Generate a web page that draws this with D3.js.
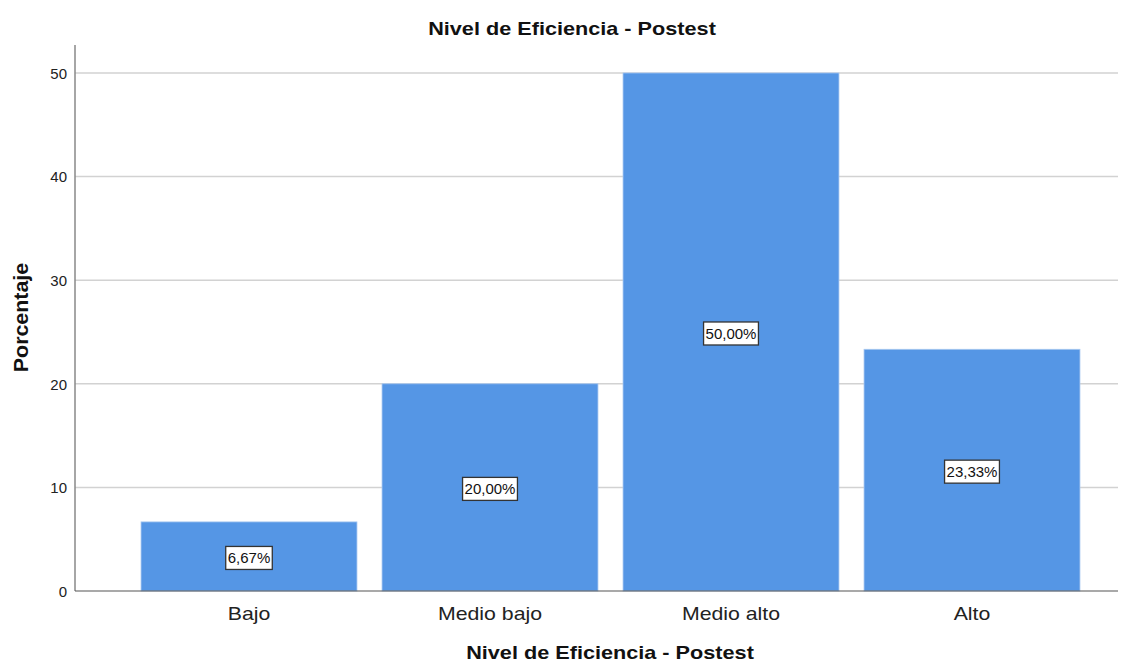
<!DOCTYPE html>
<html>
<head>
<meta charset="utf-8">
<script src="https://cdn.jsdelivr.net/npm/d3@7"></script>
<style>
  html, body { margin: 0; padding: 0; background: #fff; }
  svg { display: block; font-family: Arial, "Liberation Sans", sans-serif; }
</style>
</head>
<body>
<svg id="chart" width="1132" height="666"></svg>
<script>
// Percentage distribution of efficiency levels (post-test)
const categories = ["Bajo", "Medio bajo", "Medio alto", "Alto"];
const percentages = [6.67, 20.00, 50.00, 23.33];
const yTicks = [0, 10, 20, 30, 40, 50];

const svg = d3.select("#chart");
const plot = { left: 75, right: 1118, top: 45, bottom: 591 };

// Widen glyph runs slightly to get the broad look of the chart's typeface
function widen(sel, factor) {
  sel.each(function () {
    const len = this.getComputedTextLength();
    d3.select(this).attr("textLength", len * factor).attr("lengthAdjust", "spacingAndGlyphs");
  });
}

const y = d3.scaleLinear().domain([0, 52.7]).range([plot.bottom, plot.top]);
const x = d3.scaleBand()
  .domain(categories)
  .range([128.5, 1092.5])
  .paddingInner(0.104)
  .paddingOuter(0.052);

// Gridlines
svg.append("g")
  .selectAll("line")
  .data(yTicks.filter(d => d > 0))
  .join("line")
  .attr("x1", plot.left).attr("x2", plot.right)
  .attr("y1", d => y(d)).attr("y2", d => y(d))
  .attr("stroke", "#d2d2d2").attr("stroke-width", 1.5);

// Bars
svg.append("g")
  .selectAll("rect")
  .data(categories)
  .join("rect")
  .attr("x", d => x(d))
  .attr("y", (d, i) => y(percentages[i]))
  .attr("width", x.bandwidth())
  .attr("height", (d, i) => plot.bottom - y(percentages[i]))
  .attr("fill", "#5596e5")
  .attr("stroke", "#a9c8f0")
  .attr("stroke-width", 0.8);

// Y axis
const yAxis = d3.axisLeft(y).tickValues(yTicks).tickSize(0).tickPadding(8).tickFormat(d3.format("d"));
const gy = svg.append("g").attr("transform", `translate(${plot.left},0)`).call(yAxis);
gy.select(".domain").remove();
gy.selectAll("text").attr("font-size", 15).attr("fill", "#222").attr("dy", "0.35em").attr("font-family", null);
svg.append("line")
  .attr("x1", plot.left).attr("x2", plot.left)
  .attr("y1", plot.top).attr("y2", plot.bottom)
  .attr("stroke", "#888").attr("stroke-width", 1.5);

// X axis
const xAxis = d3.axisBottom(x).tickSize(0).tickPadding(0);
const gx = svg.append("g").attr("transform", `translate(0,${plot.bottom})`).call(xAxis);
gx.select(".domain").remove();
gx.selectAll("text")
  .attr("font-size", 19).attr("fill", "#222").attr("font-family", null)
  .attr("y", 28.5).attr("dy", null)
  .call(widen, 1.12);
svg.append("line")
  .attr("x1", plot.left).attr("x2", plot.right)
  .attr("y1", plot.bottom).attr("y2", plot.bottom)
  .attr("stroke", "#555").attr("stroke-width", 1.2);

// Value labels in boxes at mid-height of each bar
const fmt = v => v.toFixed(2).replace(".", ",") + "%";
const labels = svg.append("g")
  .selectAll("g")
  .data(categories)
  .join("g")
  .attr("transform", (d, i) => `translate(${x(d) + x.bandwidth() / 2},${y(percentages[i] / 2) + 1.5})`);
labels.append("text")
  .attr("text-anchor", "middle")
  .attr("dy", "0.36em")
  .attr("font-size", 15)
  .attr("fill", "#111")
  .text((d, i) => fmt(percentages[i]))
  .each(function () {
    const bb = this.getBBox();
    d3.select(this.parentNode).insert("rect", "text")
      .attr("x", bb.x - 2).attr("y", -11.5)
      .attr("width", bb.width + 4).attr("height", 23)
      .attr("fill", "#fff").attr("stroke", "#333").attr("stroke-width", 1.3);
  });

// Titles
svg.append("text")
  .attr("x", 572).attr("y", 35)
  .attr("text-anchor", "middle").attr("font-size", 19).attr("font-weight", "bold").attr("fill", "#111")
  .text("Nivel de Eficiencia - Postest")
  .call(widen, 1.14);

svg.append("text")
  .attr("x", 610).attr("y", 659)
  .attr("text-anchor", "middle").attr("font-size", 19).attr("font-weight", "bold").attr("fill", "#111")
  .text("Nivel de Eficiencia - Postest")
  .call(widen, 1.14);

svg.append("text")
  .attr("transform", `translate(28,317.5) rotate(-90)`)
  .attr("text-anchor", "middle").attr("font-size", 20).attr("font-weight", "bold").attr("fill", "#111")
  .text("Porcentaje")
  .call(widen, 1.07);
</script>
</body>
</html>
